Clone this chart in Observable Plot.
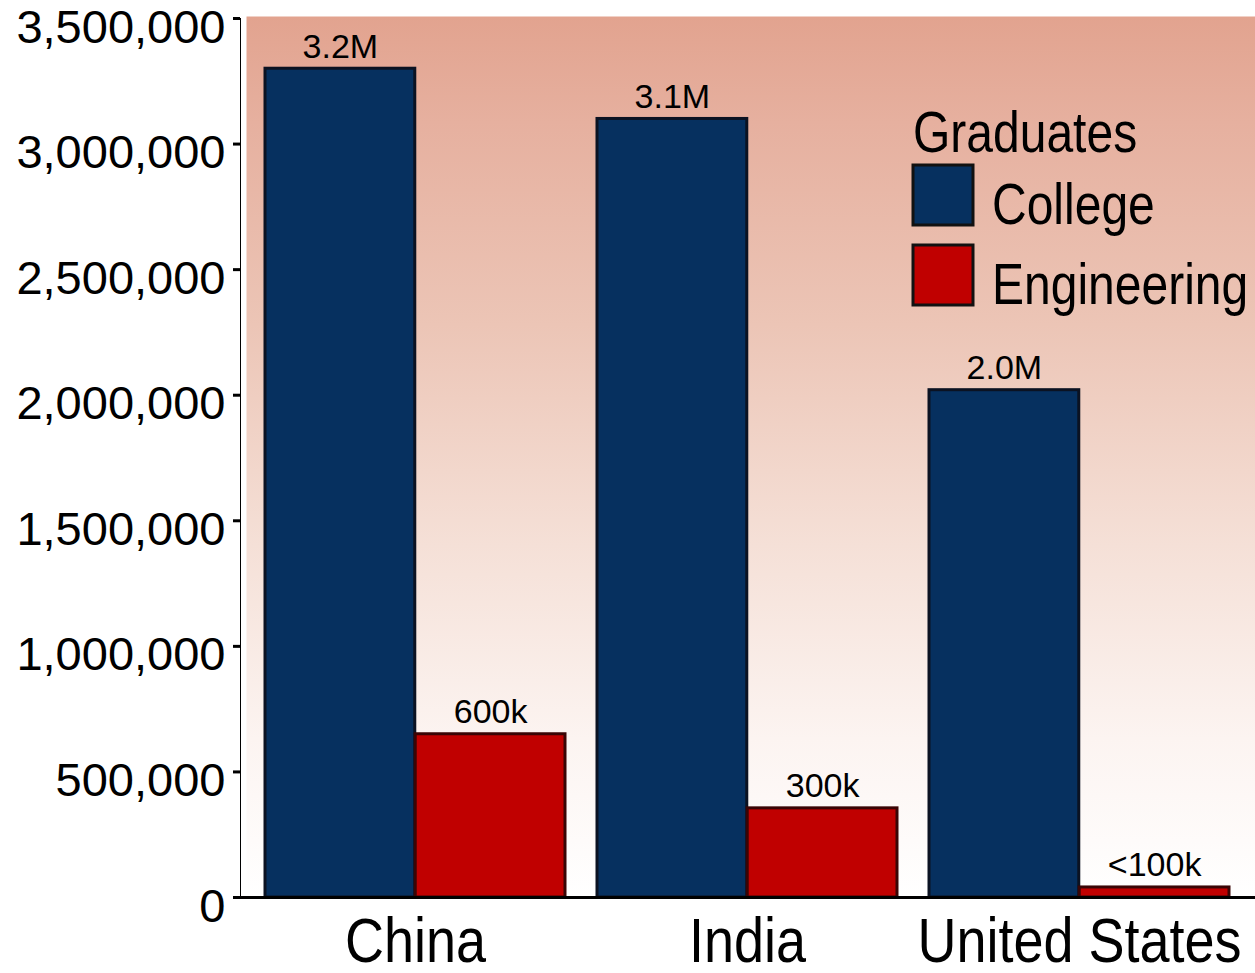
<!DOCTYPE html>
<html>
<head>
<meta charset="utf-8">
<script src="https://cdn.jsdelivr.net/npm/d3@7"></script>
<script src="https://cdn.jsdelivr.net/npm/@observablehq/plot@0.6"></script>
<style>
  body { margin: 0; background: #fff; font-family: "Liberation Sans", Arial, sans-serif; }
  #wrap { position: relative; width: 1255px; height: 973px; overflow: hidden; }
  #chart { position: absolute; left: 0; top: 0; }
  #legendTitle { position: absolute; left: 913px; top: 109px; font-size: 48px; line-height: 48px;
    color: #000; transform: scaleY(1.2); transform-origin: left center; white-space: nowrap; }
  #legend { position: absolute; left: 913px; top: 165px; width: 342px; }
</style>
</head>
<body>
<div id="wrap">
  <div id="chart"></div>
  <div id="legendTitle">Graduates</div>
  <div id="legend"></div>
</div>
<script>
// ---- data ----
const countries = ["China", "India", "United States"];
const seriesNames = ["College", "Engineering"];
const collegeValues = [3300000, 3100000, 2020000];
const engineeringValues = [650000, 355000, 40000];
const collegeLabels = ["3.2M", "3.1M", "2.0M"];
const engineeringLabels = ["600k", "300k", "<100k"];
const yTicks = [0, 500000, 1000000, 1500000, 2000000, 2500000, 3000000, 3500000];
const seriesColors = ["#06305f", "#c00000"];
const seriesStrokes = ["#0b1222", "#3a0505"];
const legendTitle = "Graduates";

const data = countries.flatMap((c, i) => [
  {country: c, series: seriesNames[0], value: collegeValues[i], label: collegeLabels[i]},
  {country: c, series: seriesNames[1], value: engineeringValues[i], label: engineeringLabels[i]}
]);
const collegeData = data.filter(d => d.series === seriesNames[0]);
const engineeringData = data.filter(d => d.series === seriesNames[1]);

const FONT = "Liberation Sans, Arial, sans-serif";
const W = 1255, H = 973, ML = 240, MR = 0, MT = 18, MB = 76;
const xBand = {domain: countries, paddingInner: 0.096, paddingOuter: 0.075};
const yFormat = d3.format(",");

// half of the country band: each country's band holds the two series side by side
const bw = Plot.scale({x: {type: "band", ...xBand, range: [ML, W - MR]}}).bandwidth;
const half = bw / 2;

const chart = Plot.plot({
  width: W,
  height: H,
  marginLeft: ML,
  marginRight: MR,
  marginTop: MT,
  marginBottom: MB,
  style: {fontFamily: FONT, fontSize: "47px", background: "transparent", color: "#000", overflow: "visible"},
  x: {...xBand, label: null, tickSize: 0, tickPadding: 20},
  y: {domain: [0, 3500000], ticks: yTicks, tickFormat: yFormat, tickSize: 7, tickPadding: 8, line: true, label: null, grid: false},
  color: {domain: seriesNames, range: seriesColors},
  marks: [
    Plot.frame({fill: "url(#bgGrad)", stroke: null, insetLeft: 6, insetTop: -2}),
    Plot.barY(collegeData, {x: "country", y: "value", fill: "series", stroke: seriesStrokes[0], strokeWidth: 3, insetRight: half}),
    Plot.barY(engineeringData, {x: "country", y: "value", fill: "series", stroke: seriesStrokes[1], strokeWidth: 3, insetLeft: half}),
    Plot.text(collegeData, {x: "country", y: "value", text: "label", dx: -half / 2, lineAnchor: "bottom", dy: -11, fontSize: 34, fill: "#000"}),
    Plot.text(engineeringData, {x: "country", y: "value", text: "label", dx: half / 2, lineAnchor: "bottom", dy: -11, fontSize: 34, fill: "#000"}),
    Plot.ruleY([0], {stroke: "#000", strokeWidth: 3})
  ]
});

// gradient definition for the plot background
const defs = d3.create("svg:defs");
const grad = defs.append("linearGradient").attr("id", "bgGrad").attr("x1", 0).attr("y1", 0).attr("x2", 0).attr("y2", 1);
[["0%", "#e2a38f"], ["12%", "#e6b09f"], ["35%", "#ecc5b6"], ["60%", "#f5e0d7"], ["82%", "#fcf4f1"], ["100%", "#ffffff"]]
  .forEach(([o, c]) => grad.append("stop").attr("offset", o).attr("stop-color", c));
chart.insertBefore(defs.node(), chart.firstChild);

// thicker axis strokes
d3.select(chart).selectAll("g[aria-label^='y-axis'] path, g[aria-label^='y-axis'] line")
  .attr("stroke-width", 3);

// y tick labels sit slightly below their ticks in the reference
const yLabelSet = new Set(yTicks.map(yFormat));
d3.select(chart).selectAll("text").each(function() {
  if (yLabelSet.has(this.textContent)) {
    const t = this.getAttribute("transform") || "";
    this.setAttribute("transform", (t + " translate(0,9)").trim());
  }
});

// enlarge & stretch country labels
d3.select(chart).selectAll("text").each(function() {
  if (countries.includes(this.textContent)) {
    this.setAttribute("font-size", "54px");
    const t = this.getAttribute("transform") || "";
    this.setAttribute("transform", (t + " scale(1,1.15)").trim());
  }
});

document.getElementById("chart").appendChild(chart);

// legend
const legend = Plot.legend({
  color: {domain: seriesNames, range: seriesColors},
  legend: "swatches",
  columns: 1,
  swatchSize: 60,
  className: "leg",
  style: {fontFamily: FONT, fontSize: "48px", color: "#000", marginBottom: "0"}
});
document.getElementById("legend").appendChild(legend);
legend.querySelectorAll("svg").forEach((s, i) => {
  s.style.marginRight = "19px";
  s.style.overflow = "visible";
  s.querySelectorAll("rect").forEach(r => { r.setAttribute("stroke", "#111"); r.setAttribute("stroke-width", 3); });
  const item = s.parentNode;
  item.style.paddingBottom = "20px";
  item.style.display = "flex";
  item.style.alignItems = "center";
  const lab = s.nextElementSibling;
  if (lab) {
    lab.style.overflow = "visible";
    lab.style.maxWidth = "none";
    lab.style.display = "inline-block";
    lab.style.transform = "translateY(9px) scaleY(1.2)";
  }
});
</script>
</body>
</html>
